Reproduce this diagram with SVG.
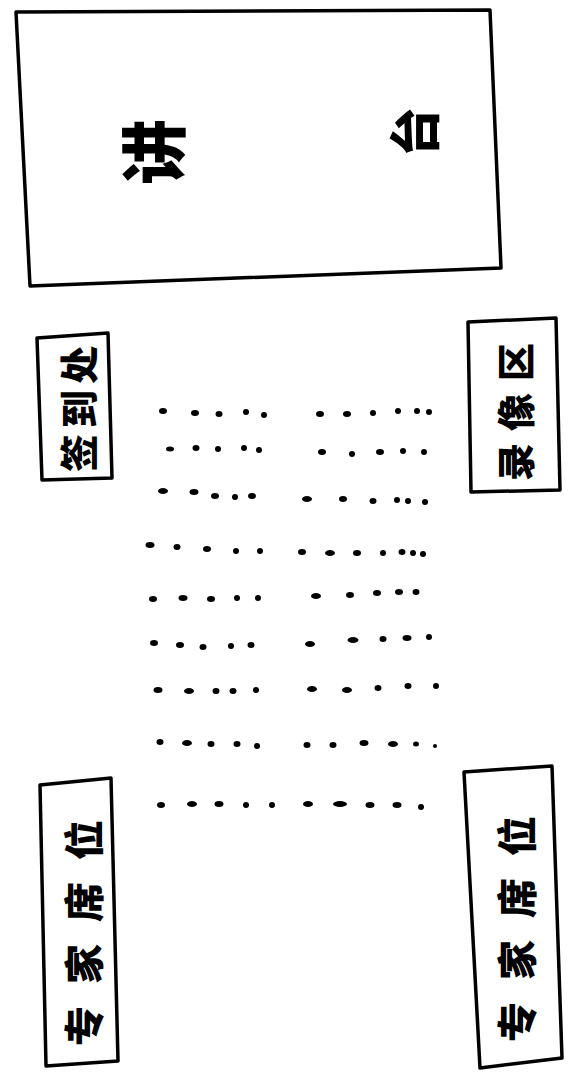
<svg xmlns="http://www.w3.org/2000/svg" width="582" height="1079" viewBox="0 0 582 1079">
<style>
.box{fill:none;stroke:#000;stroke-width:3.5;stroke-linejoin:round;stroke-linecap:round}
.t{font-family:"Noto Sans CJK SC","Noto Sans CJK JP",sans-serif;font-weight:900;fill:#000;text-anchor:middle;dominant-baseline:central}
.d{fill:#000}
</style>
<rect width="582" height="1079" fill="#fff"/>
<g id="stage">
<path class="box" d="M16,12 L490,10 L501,268 L30,286 Z"/>
<text class="t" font-size="66" transform="translate(150,152) rotate(-90)">讲</text>
<text class="t" font-size="50" transform="translate(412,132) rotate(-90)">台</text>
</g>
<g id="signin">
<path class="box" d="M37,338 L108,333 L112,478 L42,480 Z"/>
<text class="t" font-size="38" letter-spacing="6" transform="translate(76,406) rotate(-90)">签到处</text>
</g>
<g id="video">
<path class="box" d="M468,322 L556,318 L560,490 L471,492 Z"/>
<text class="t" font-size="38" letter-spacing="12" transform="translate(513,406) rotate(-90)">录像区</text>
</g>
<g id="experts-left">
<path class="box" d="M40,785 L111,778 L118,1061 L46,1066 Z"/>
<text class="t" font-size="40" letter-spacing="22" transform="translate(82,922) rotate(-90)">专家席位</text>
</g>
<g id="experts-right">
<path class="box" d="M464,772 L552,766 L562,1058 L480,1068 Z"/>
<text class="t" font-size="40" letter-spacing="22" transform="translate(515,918) rotate(-90)">专家席位</text>
</g>
<g id="seats">
<ellipse class="d" cx="163" cy="411" rx="4" ry="3"/><ellipse class="d" cx="195" cy="413" rx="4" ry="3"/><ellipse class="d" cx="219" cy="414" rx="3.5" ry="3"/><ellipse class="d" cx="246" cy="412" rx="3" ry="3"/><ellipse class="d" cx="264" cy="415" rx="3" ry="3"/>
<ellipse class="d" cx="320" cy="414" rx="4" ry="3"/><ellipse class="d" cx="347" cy="414" rx="4" ry="3"/><ellipse class="d" cx="373" cy="413" rx="3" ry="3"/><ellipse class="d" cx="398" cy="411" rx="3" ry="3"/><ellipse class="d" cx="417" cy="411" rx="3" ry="3"/><ellipse class="d" cx="429" cy="412" rx="3" ry="3"/>
<ellipse class="d" cx="170" cy="449" rx="4" ry="2.5"/><ellipse class="d" cx="196" cy="448" rx="3.5" ry="3"/><ellipse class="d" cx="218" cy="449" rx="3" ry="3"/><ellipse class="d" cx="244" cy="448" rx="3" ry="3"/><ellipse class="d" cx="259" cy="450" rx="3" ry="3"/>
<ellipse class="d" cx="322" cy="452" rx="4" ry="3"/><ellipse class="d" cx="352" cy="454" rx="3" ry="3"/><ellipse class="d" cx="380" cy="452" rx="4" ry="3"/><ellipse class="d" cx="403" cy="451" rx="3" ry="3"/><ellipse class="d" cx="424" cy="452" rx="3" ry="3"/>
<ellipse class="d" cx="163" cy="491" rx="5" ry="3"/><ellipse class="d" cx="194" cy="492" rx="4.5" ry="3"/><ellipse class="d" cx="215" cy="496" rx="4" ry="3"/><ellipse class="d" cx="235" cy="497" rx="3" ry="3"/><ellipse class="d" cx="252" cy="496" rx="4" ry="3"/>
<ellipse class="d" cx="307" cy="499" rx="5" ry="3"/><ellipse class="d" cx="343" cy="499" rx="4" ry="3"/><ellipse class="d" cx="373" cy="501" rx="3.5" ry="3"/><ellipse class="d" cx="397" cy="500" rx="3" ry="3"/><ellipse class="d" cx="408" cy="501" rx="3" ry="3"/><ellipse class="d" cx="425" cy="502" rx="3" ry="3"/>
<ellipse class="d" cx="150" cy="545" rx="4.5" ry="3"/><ellipse class="d" cx="177" cy="547" rx="3.5" ry="3"/><ellipse class="d" cx="207" cy="549" rx="4" ry="3"/><ellipse class="d" cx="236" cy="551" rx="3" ry="3"/><ellipse class="d" cx="260" cy="551" rx="3" ry="3"/>
<ellipse class="d" cx="302" cy="552" rx="4" ry="3"/><ellipse class="d" cx="330" cy="553" rx="5" ry="3"/><ellipse class="d" cx="357" cy="553" rx="4" ry="3"/><ellipse class="d" cx="383" cy="553" rx="3" ry="3"/><ellipse class="d" cx="402" cy="552" rx="3.5" ry="3"/><ellipse class="d" cx="413" cy="553" rx="3" ry="3"/><ellipse class="d" cx="423" cy="554" rx="3" ry="3"/>
<ellipse class="d" cx="153" cy="599" rx="4" ry="3"/><ellipse class="d" cx="183" cy="598" rx="4.5" ry="3"/><ellipse class="d" cx="211" cy="599" rx="4" ry="3"/><ellipse class="d" cx="237" cy="598" rx="3" ry="3"/><ellipse class="d" cx="258" cy="598" rx="3" ry="3"/>
<ellipse class="d" cx="316" cy="596" rx="5" ry="3"/><ellipse class="d" cx="350" cy="595" rx="4" ry="3"/><ellipse class="d" cx="377" cy="593" rx="4" ry="3"/><ellipse class="d" cx="399" cy="592" rx="4" ry="3"/><ellipse class="d" cx="416" cy="592" rx="3.5" ry="3"/>
<ellipse class="d" cx="154" cy="643" rx="4" ry="3"/><ellipse class="d" cx="180" cy="645" rx="4" ry="3"/><ellipse class="d" cx="203" cy="647" rx="3.5" ry="3"/><ellipse class="d" cx="231" cy="646" rx="3" ry="3"/><ellipse class="d" cx="251" cy="645" rx="3.5" ry="3"/>
<ellipse class="d" cx="310" cy="644" rx="5" ry="3"/><ellipse class="d" cx="353" cy="640" rx="5.5" ry="3"/><ellipse class="d" cx="383" cy="639" rx="3.5" ry="3"/><ellipse class="d" cx="407" cy="638" rx="4.5" ry="3"/><ellipse class="d" cx="429" cy="637" rx="3" ry="3"/>
<ellipse class="d" cx="158" cy="690" rx="4.5" ry="3"/><ellipse class="d" cx="189" cy="691" rx="5" ry="3"/><ellipse class="d" cx="216" cy="691" rx="3.5" ry="3"/><ellipse class="d" cx="233" cy="691" rx="3.5" ry="3"/><ellipse class="d" cx="256" cy="690" rx="3" ry="3"/>
<ellipse class="d" cx="312" cy="689" rx="5" ry="3"/><ellipse class="d" cx="347" cy="690" rx="5" ry="3"/><ellipse class="d" cx="378" cy="688" rx="3.5" ry="3"/><ellipse class="d" cx="408" cy="686" rx="3.5" ry="3"/><ellipse class="d" cx="436" cy="686" rx="3" ry="3"/>
<ellipse class="d" cx="160" cy="742" rx="3.5" ry="3"/><ellipse class="d" cx="187" cy="743" rx="5" ry="3"/><ellipse class="d" cx="211" cy="744" rx="3.5" ry="3"/><ellipse class="d" cx="237" cy="744" rx="3.5" ry="3"/><ellipse class="d" cx="257" cy="746" rx="3" ry="3"/>
<ellipse class="d" cx="307" cy="745" rx="3.5" ry="3"/><ellipse class="d" cx="333" cy="745" rx="3.5" ry="3"/><ellipse class="d" cx="364" cy="743" rx="4.5" ry="3"/><ellipse class="d" cx="393" cy="744" rx="5" ry="3"/><ellipse class="d" cx="416" cy="744" rx="3" ry="2.5"/><ellipse class="d" cx="435" cy="746" rx="2" ry="2"/>
<ellipse class="d" cx="161" cy="805" rx="4" ry="3"/><ellipse class="d" cx="192" cy="804" rx="5" ry="3"/><ellipse class="d" cx="219" cy="804" rx="4.5" ry="3"/><ellipse class="d" cx="246" cy="805" rx="3" ry="3"/><ellipse class="d" cx="272" cy="805" rx="3" ry="3"/>
<ellipse class="d" cx="308" cy="804" rx="5" ry="3"/><ellipse class="d" cx="340" cy="804" rx="7" ry="3"/><ellipse class="d" cx="370" cy="805" rx="4.5" ry="3"/><ellipse class="d" cx="397" cy="805" rx="4.5" ry="3"/><ellipse class="d" cx="421" cy="807" rx="3" ry="3"/>
</g>
</svg>
